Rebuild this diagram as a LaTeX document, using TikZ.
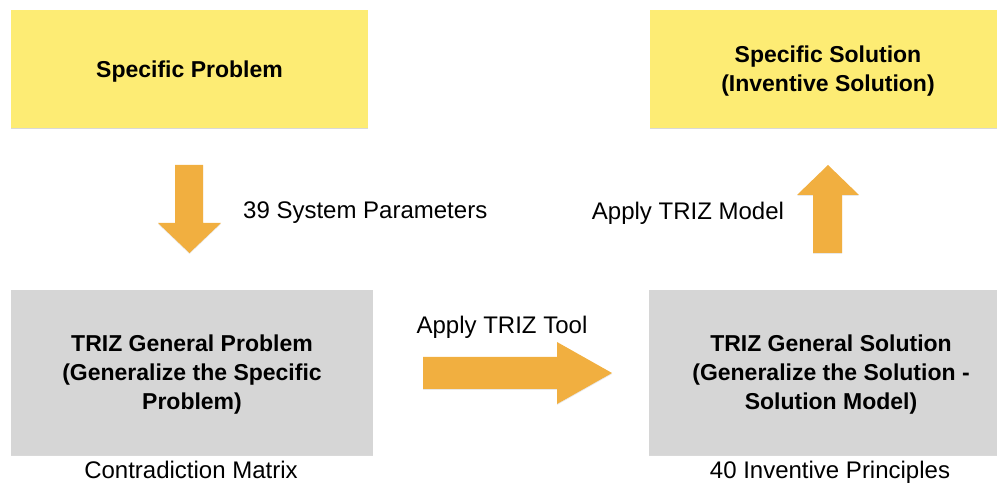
\documentclass[tikz,border=0pt]{standalone}
\usepackage{fontspec}
\setmainfont{Liberation Sans}
\usetikzlibrary{shadows}
\definecolor{boxyellow}{RGB}{253,236,116}
\definecolor{boxgray}{RGB}{214,214,214}
\definecolor{arroworange}{RGB}{241,175,64}
\begin{document}
\begin{tikzpicture}[x=1pt,y=-1pt,
  box/.style={inner sep=0pt, align=center, text depth=0pt,
    font=\fontsize{23}{29}\selectfont\bfseries,
    drop shadow={shadow xshift=0pt, shadow yshift=-1.2pt, opacity=0.25, fill=black!60}},
  lbl/.style={inner sep=0pt, font=\fontsize{24}{28}\selectfont, text height=17.2pt, text depth=0pt},
  blockarrow/.style={fill=arroworange, drop shadow={shadow xshift=0pt, shadow yshift=-1pt, opacity=0.15, fill=black!60}}]
\useasboundingbox (0,0) rectangle (997,486);
\clip (0,0) rectangle (997,486);

\node[box, fill=boxyellow, minimum width=357pt, minimum height=118pt] (sp) at (189.5,69) {Specific Problem};
\node[box, fill=boxyellow, minimum width=356pt, minimum height=118pt] (ss) at (828,69) {Specific Solution\\(Inventive Solution)};
\node[box, fill=boxgray, minimum width=362pt, minimum height=165pt] (gp) at (192,372.5) {TRIZ General Problem\\(Generalize the Specific\\Problem)};
\node[box, fill=boxgray, minimum width=364pt, minimum height=165pt] (gs) at (831,372.5) {TRIZ General Solution\\(Generalize the Solution -\\Solution Model)};

% block arrows
\fill[blockarrow] (175,165) -- (203,165) -- (203,223) -- (221,223) -- (189.5,253) -- (158,223) -- (175,223) -- cycle;
\fill[blockarrow] (813,253) -- (842,253) -- (842,195) -- (859,195) -- (828,165) -- (797,195) -- (813,195) -- cycle;
\fill[blockarrow] (423,357) -- (557,357) -- (557,342) -- (612,373) -- (557,404) -- (557,389) -- (423,389) -- cycle;

\node[lbl, anchor=west] (t1) at (243,210) {39 System Parameters};
\node[lbl] (t2) at (688,211) {Apply TRIZ Model};
\node[lbl] (t3) at (502,325) {Apply TRIZ Tool};
\node[lbl] (t4) at (191,470) {Contradiction Matrix};
\node[lbl] (t5) at (830,470) {40 Inventive Principles};
\end{tikzpicture}
\end{document}
